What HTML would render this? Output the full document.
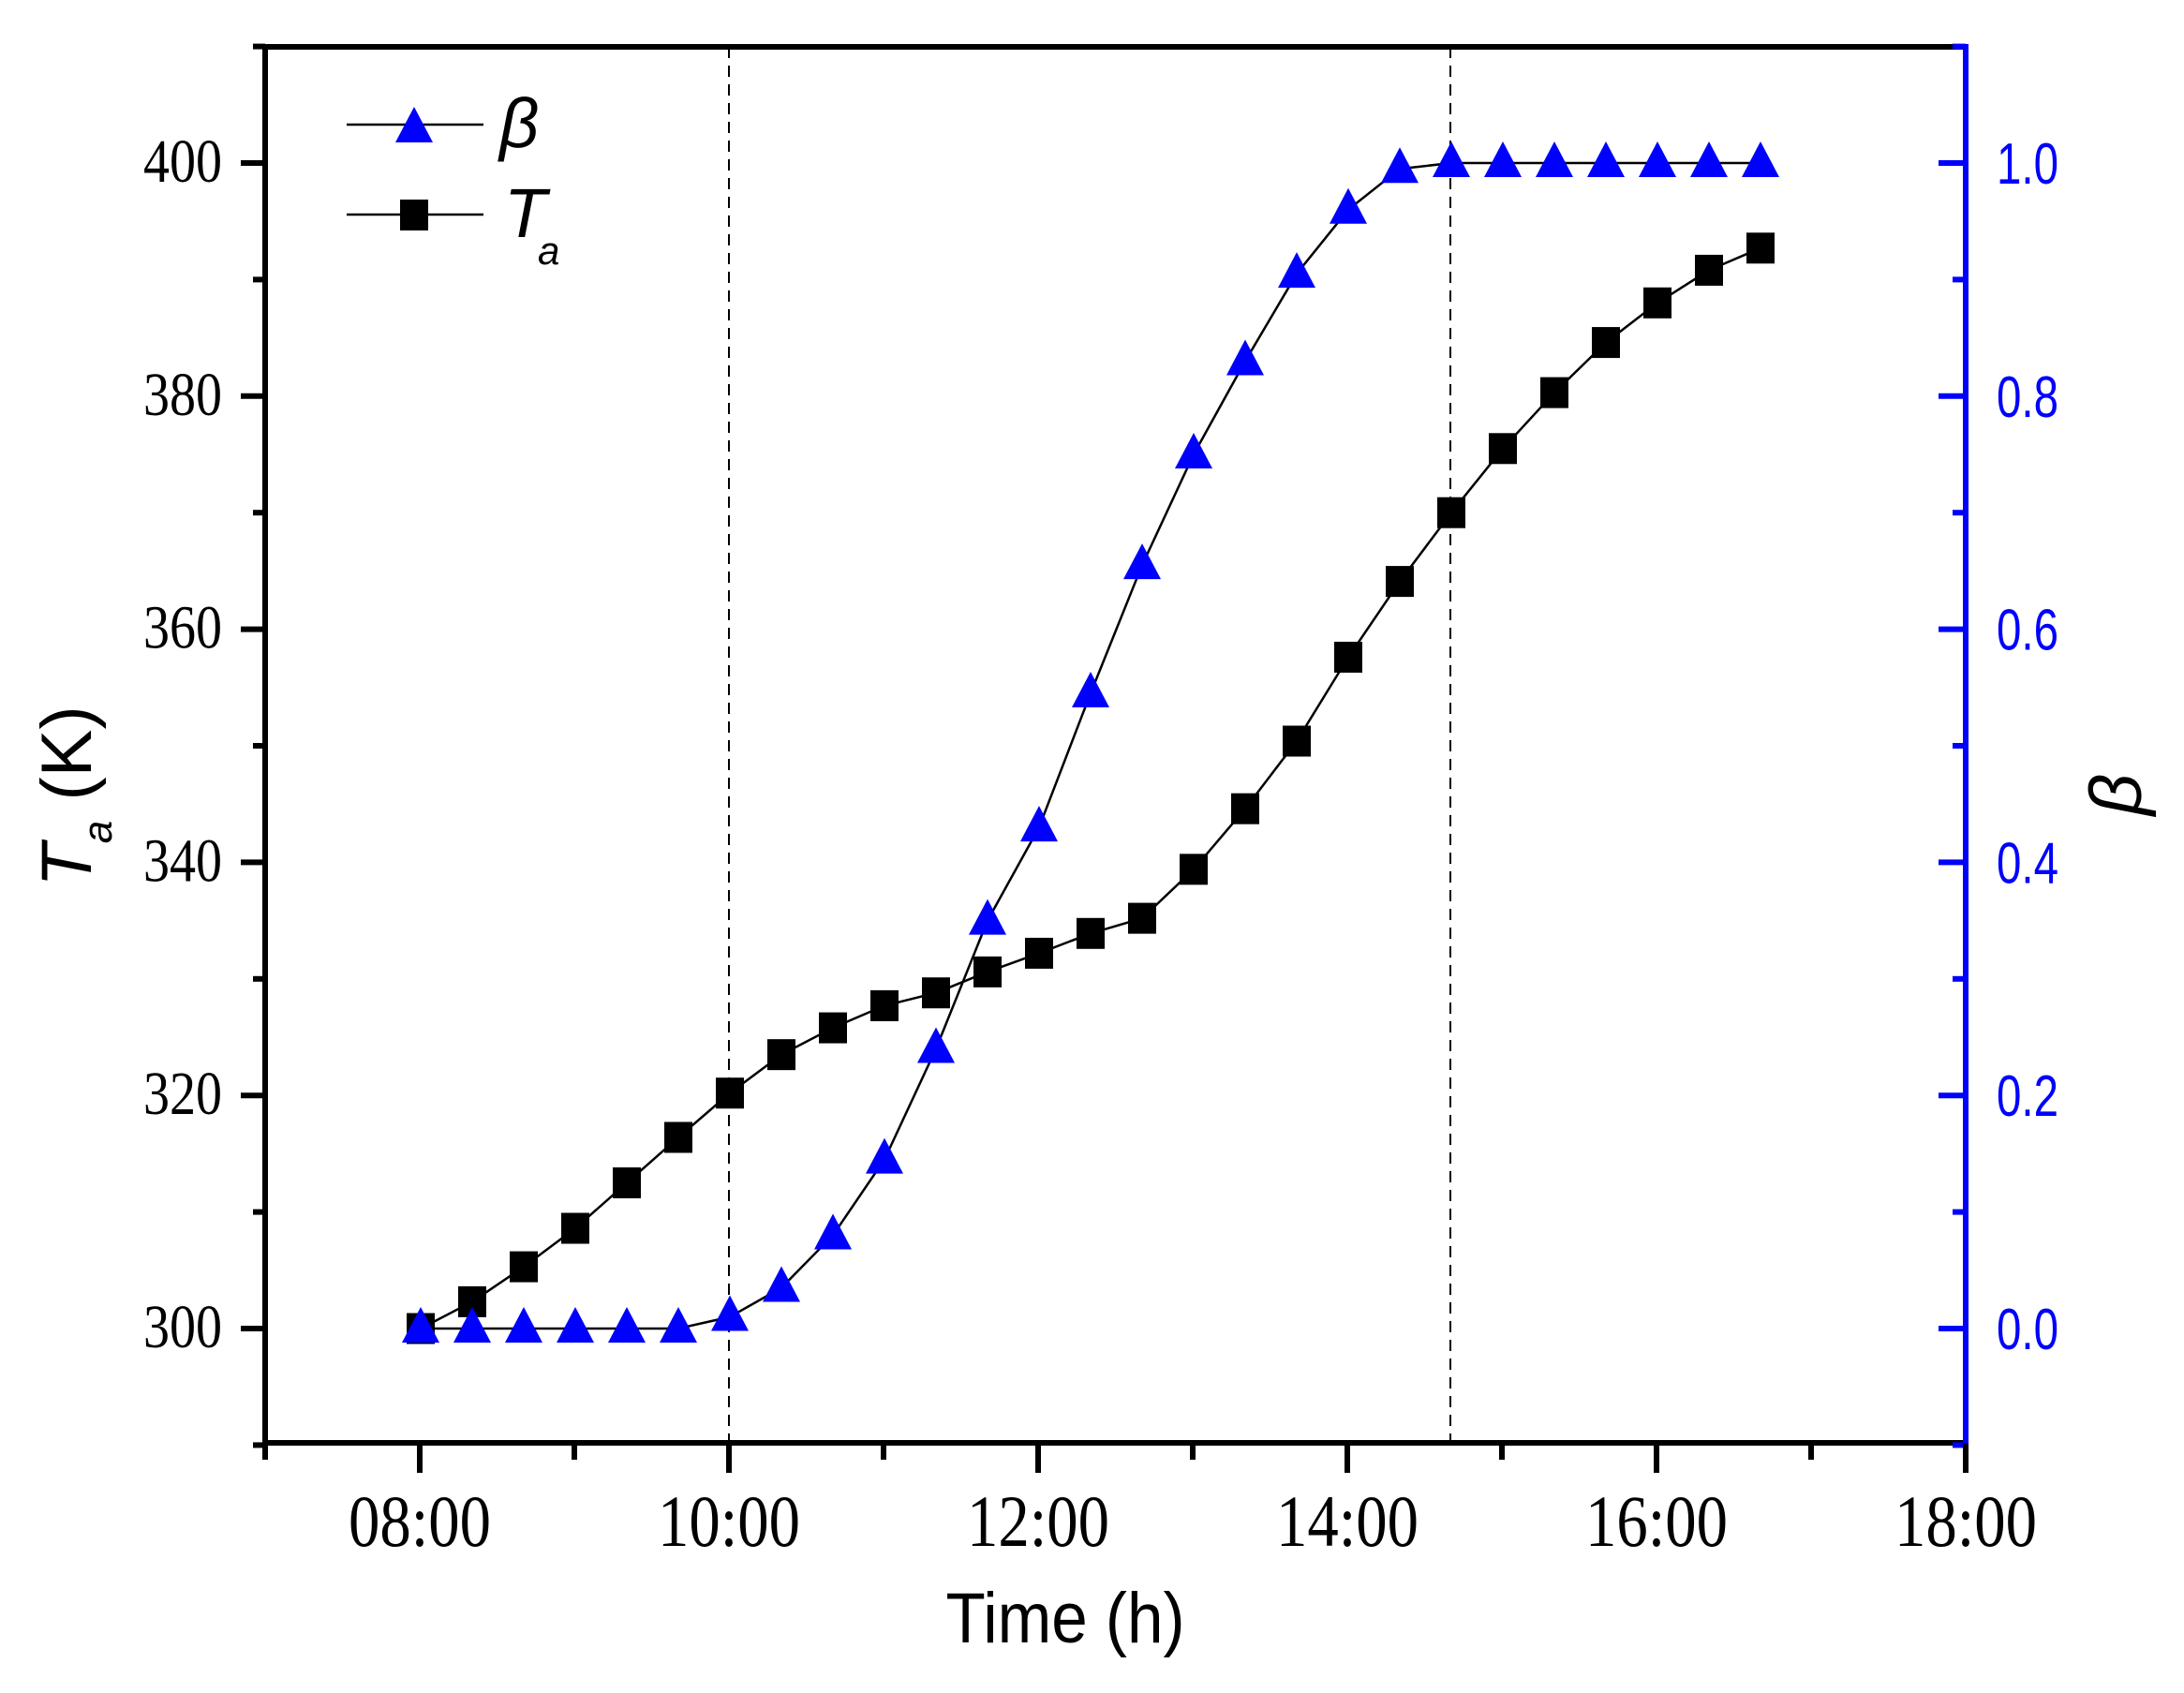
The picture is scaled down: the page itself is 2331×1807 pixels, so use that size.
<!DOCTYPE html>
<html><head><meta charset="utf-8"><style>html,body{margin:0;padding:0;background:#fff}svg{display:block}</style></head>
<body>
<svg id="s" width="2331" height="1807" viewBox="0 0 2331 1807" xmlns="http://www.w3.org/2000/svg">
<rect width="2331" height="1807" fill="#fff"/>
<g id="g"></g>
<!-- legend -->
<line x1="370" y1="133" x2="516" y2="133" stroke="#000" stroke-width="2.5"/>
<polygon points="442,114 422,152 462,152" fill="#0000ff"/>
<text x="533" y="157" font-family="Liberation Sans, sans-serif" font-style="italic" font-size="74" fill="#000">β</text>
<line x1="370" y1="229" x2="516" y2="229" stroke="#000" stroke-width="2.5"/>
<rect x="427" y="213" width="30" height="33" fill="#000"/>
<text x="538" y="253" font-family="Liberation Sans, sans-serif" font-style="italic" font-size="74" fill="#000">T</text>
<text x="574" y="282" font-family="Liberation Sans, sans-serif" font-style="italic" font-size="42" fill="#000">a</text>
<!-- axis titles -->
<text transform="translate(97,850) rotate(-90)" text-anchor="middle" font-family="Liberation Sans, sans-serif" font-size="76" fill="#000"><tspan font-style="italic">T</tspan><tspan font-style="italic" font-size="44" dy="22">a</tspan><tspan dy="-22"> (K)</tspan></text>
<text transform="translate(2285,848) rotate(-90)" text-anchor="middle" font-family="Liberation Sans, sans-serif" font-style="italic" font-size="78" fill="#000">β</text>
<text x="1137" y="1753" text-anchor="middle" font-family="Liberation Sans, sans-serif" font-size="76" textLength="255" lengthAdjust="spacingAndGlyphs" fill="#000">Time (h)</text>
</svg>
<script>
(function(){
var g=document.getElementById('g'),h='';
var X0=283,HX=165,Y300=1418,KY=12.44;
function X(hr){return X0+(hr-7)*HX;}
function Y(t){return Y300-(t-300)*KY;}
[10,14+40/60].forEach(function(hr){var x=X(hr);h+='<line x1="'+x+'" y1="50" x2="'+x+'" y2="1540" stroke="#000" stroke-width="2" stroke-dasharray="12,8"/>';});
var Ta=[300,302.3,305.3,308.6,312.5,316.4,320.2,323.5,325.8,327.7,328.8,330.6,332.2,333.9,335.2,339.4,344.6,350.4,357.6,364.1,370,375.5,380.3,384.6,388,390.8,392.7];
var B=[0,0,0,0,0,0,0.01,0.035,0.08,0.145,0.24,0.35,0.43,0.545,0.655,0.75,0.83,0.905,0.96,0.995,1,1,1,1,1,1,1];
var pT='',pB='';
for(var i=0;i<27;i++){var x=449+i*55;pT+=x+','+Y(Ta[i]).toFixed(1)+' ';pB+=x+','+Y(300+B[i]*100).toFixed(1)+' ';}
h+='<polyline points="'+pT+'" fill="none" stroke="#000" stroke-width="2.5"/>';
h+='<polyline points="'+pB+'" fill="none" stroke="#000" stroke-width="2.5"/>';
for(i=0;i<27;i++){var x=449+i*55,y=Y(Ta[i]);h+='<rect x="'+(x-15)+'" y="'+(y-16.5)+'" width="30" height="33" fill="#000"/>';}
for(i=0;i<27;i++){var x=449+i*55,y=Y(300+B[i]*100)-4;h+='<polygon points="'+x+','+(y-19)+' '+(x-20)+','+(y+19)+' '+(x+20)+','+(y+19)+'" fill="#0000ff"/>';}
h+='<line x1="280" y1="50" x2="2098" y2="50" stroke="#000" stroke-width="6"/>';
h+='<line x1="283" y1="47" x2="283" y2="1543" stroke="#000" stroke-width="6"/>';
h+='<line x1="280" y1="1540" x2="2098" y2="1540" stroke="#000" stroke-width="6"/>';
h+='<line x1="2098" y1="47" x2="2098" y2="1543" stroke="#0000ff" stroke-width="6"/>';
for(var t=290;t<=410;t+=10){var y=Y(t),maj=(t%20==0);h+='<line x1="'+(maj?257:270)+'" y1="'+y+'" x2="283" y2="'+y+'" stroke="#000" stroke-width="6"/>';
 if(maj&&t>=300&&t<=400)h+='<text x="237" y="'+(y+20)+'" text-anchor="end" font-family="Liberation Serif, serif" font-size="66" textLength="84" lengthAdjust="spacingAndGlyphs" fill="#000">'+t+'</text>';}
for(var k=-1;k<=11;k++){var y=Y(300+k*10),maj=(k%2==0)&&k>=0&&k<=10;h+='<line x1="'+(maj?2069:2084)+'" y1="'+y+'" x2="2098" y2="'+y+'" stroke="#0000ff" stroke-width="6"/>';
 if(maj)h+='<text x="2131" y="'+(y+22)+'" font-family="Liberation Sans, sans-serif" font-size="62" textLength="66" lengthAdjust="spacingAndGlyphs" fill="#0000ff">'+(k/10).toFixed(1)+'</text>';}
for(var hr=7;hr<=18;hr++){var x=X(hr),maj=(hr%2==0);h+='<line x1="'+x+'" y1="1540" x2="'+x+'" y2="'+(maj?1572:1558)+'" stroke="#000" stroke-width="6"/>';
 if(maj)h+='<text x="'+x+'" y="1650" text-anchor="middle" font-family="Liberation Serif, serif" font-size="78" textLength="152" lengthAdjust="spacingAndGlyphs" fill="#000">'+(hr<10?'0':'')+hr+':00</text>';}
g.innerHTML=h;
})();
</script>
</body></html>
